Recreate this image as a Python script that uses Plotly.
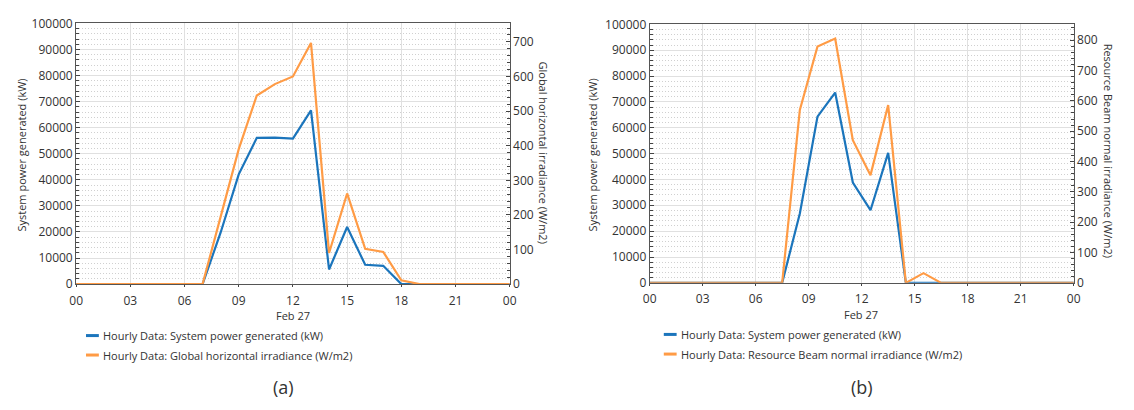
import plotly.graph_objects as go

W, H = 1134, 410

# ---- (a) hourly values, Feb 27 ----
hours_a = [f"2013-02-27 {h:02d}:00" for h in range(24)] + ["2013-02-28 00:00"]
power_a = [0, 0, 0, 0, 0, 0, 0, 0, 19800, 42100, 56100, 56200, 55800, 66600,
           5600, 21900, 7400, 7000, 0, 0, 0, 0, 0, 0, 0]
ghi_a = [0, 0, 0, 0, 0, 0, 0, 0, 195, 390, 545, 578, 600, 697,
         90, 262, 102, 93, 11, 0, 0, 0, 0, 0, 0]

# ---- (b) hourly values stamped at half past, Feb 27 ----
hours_b = (["2013-02-26 23:30"] + [f"2013-02-27 {h:02d}:30" for h in range(24)]
           + ["2013-02-28 00:30"])
power_b = [0, 0, 0, 0, 0, 0, 0, 0, 0, 26800, 64300, 73600, 38800, 28100,
           50300, 0, 0, 0, 0, 0, 0, 0, 0, 0, 0, 0]
dni_b = [0, 0, 0, 0, 0, 0, 0, 0, 0, 570, 779, 805, 470, 355,
         586, 0, 32, 0, 0, 0, 0, 0, 0, 0, 0, 0]

legend_a = ["Hourly Data: System power generated (kW)",
            "Hourly Data: Global horizontal irradiance (W/m2)"]
legend_b = ["Hourly Data: System power generated (kW)",
            "Hourly Data: Resource Beam normal irradiance (W/m2)"]

BLUE = "#1B75BC"
ORANGE = "#FF9B45"
FONT = "Open Sans"
TXT = "#333333"


def px(x):
    return x / W


def py(y):
    return 1 - y / H


fig = go.Figure()
fig.add_trace(go.Scatter(x=hours_a, y=power_a, mode="lines", xaxis="x", yaxis="y",
                         line=dict(color=BLUE, width=2.2), name=legend_a[0]))
fig.add_trace(go.Scatter(x=hours_a, y=ghi_a, mode="lines", xaxis="x", yaxis="y2",
                         line=dict(color=ORANGE, width=2.2), name=legend_a[1]))
fig.add_trace(go.Scatter(x=hours_b, y=power_b, mode="lines", xaxis="x2", yaxis="y3",
                         line=dict(color=BLUE, width=2.2), name=legend_b[0]))
fig.add_trace(go.Scatter(x=hours_b, y=dni_b, mode="lines", xaxis="x2", yaxis="y4",
                         line=dict(color=ORANGE, width=2.2), name=legend_b[1]))

tickfont = dict(family=FONT, size=12, color=TXT)


def xaxis(left, right, anchor):
    return dict(domain=[px(left), px(right)], anchor=anchor, type="date",
                range=["2013-02-27 00:00", "2013-02-28 00:00"],
                dtick=3 * 3600 * 1000, tick0="2013-02-27 00:00", tickformat="%H",
                showgrid=True, gridcolor="#e0e0e0", gridwidth=1,
                showline=True, mirror=True, linecolor="#555555", linewidth=1,
                ticks="outside", ticklen=2, tickcolor="#444444",
                ticklabelstandoff=3, tickfont=tickfont, zeroline=False)


def yleft(top, bottom, anchor):
    return dict(domain=[py(bottom), py(top)], anchor=anchor, range=[0, 100000],
                dtick=10000, tickformat="d", showgrid=True, gridcolor="#e0e0e0",
                gridwidth=1, showline=True, linecolor="#555555", linewidth=1,
                ticks="inside", ticklen=4, tickcolor="#444444",
                minor=dict(dtick=2000, showgrid=True, griddash="1px,2px",
                           gridcolor="#d0d0d0", ticks="inside", ticklen=3,
                           tickcolor="#444444"),
                tickfont=tickfont, zeroline=False)


def yright(overlay, anchor, ymax):
    return dict(overlaying=overlay, anchor=anchor, side="right", range=[0, ymax],
                dtick=100, tickformat="d", showgrid=False, showline=True,
                linecolor="#555555", linewidth=1, ticks="inside", ticklen=4,
                tickcolor="#444444",
                minor=dict(dtick=20, ticks="inside", ticklen=3, tickcolor="#444444"),
                tickfont=tickfont, zeroline=False)


fig.update_layout(
    width=W, height=H, margin=dict(l=0, r=0, t=0, b=0),
    paper_bgcolor="white", plot_bgcolor="white", showlegend=False,
    xaxis=xaxis(70, 509, "y"),
    yaxis=yleft(15, 287, "x"),
    yaxis2=yright("y", "x", 753.5),
    xaxis2=xaxis(650.7, 1080, "y3"),
    yaxis3=yleft(16, 285.7, "x2"),
    yaxis4=yright("y3", "x2", 852),
)

ann = []


def text(x, y, s, size=11, angle=0, xanchor="center", pad=1):
    ann.append(dict(x=px(x), y=py(y), xref="paper", yref="paper", text=s,
                    showarrow=False, textangle=angle, xanchor=xanchor,
                    yanchor="middle", borderpad=pad,
                    font=dict(family=FONT, size=size, color=TXT)))


# axis titles
text(15, 152, "System power generated (kW)", angle=-90)
text(543, 150, "Global horizontal irradiance (W/m2)", angle=90)
text(593, 152, "System power generated (kW)", angle=-90)
text(1115, 148, "Resource Beam normal irradiance (W/m2)", angle=90)
text(289.5, 320, "Feb 27", pad=0)
text(865, 319, "Feb 27", pad=0)

# legends
shapes = []
for (x0, rows, labels) in [(80, (340.7, 361), legend_a), (665, (339.5, 360), legend_b)]:
    for yrow, color, label in zip(rows, (BLUE, ORANGE), labels):
        shapes.append(dict(type="line", xref="paper", yref="paper",
                           x0=px(x0), x1=px(x0 + 13), y0=py(yrow), y1=py(yrow),
                           line=dict(color=color, width=3)))
        text(x0 + 15, yrow, label, xanchor="left")

# panel captions
text(280, 394, "(a)", size=18)
text(866, 394, "(b)", size=18)

fig.update_layout(annotations=ann, shapes=shapes)
fig.write_html("out.html")
